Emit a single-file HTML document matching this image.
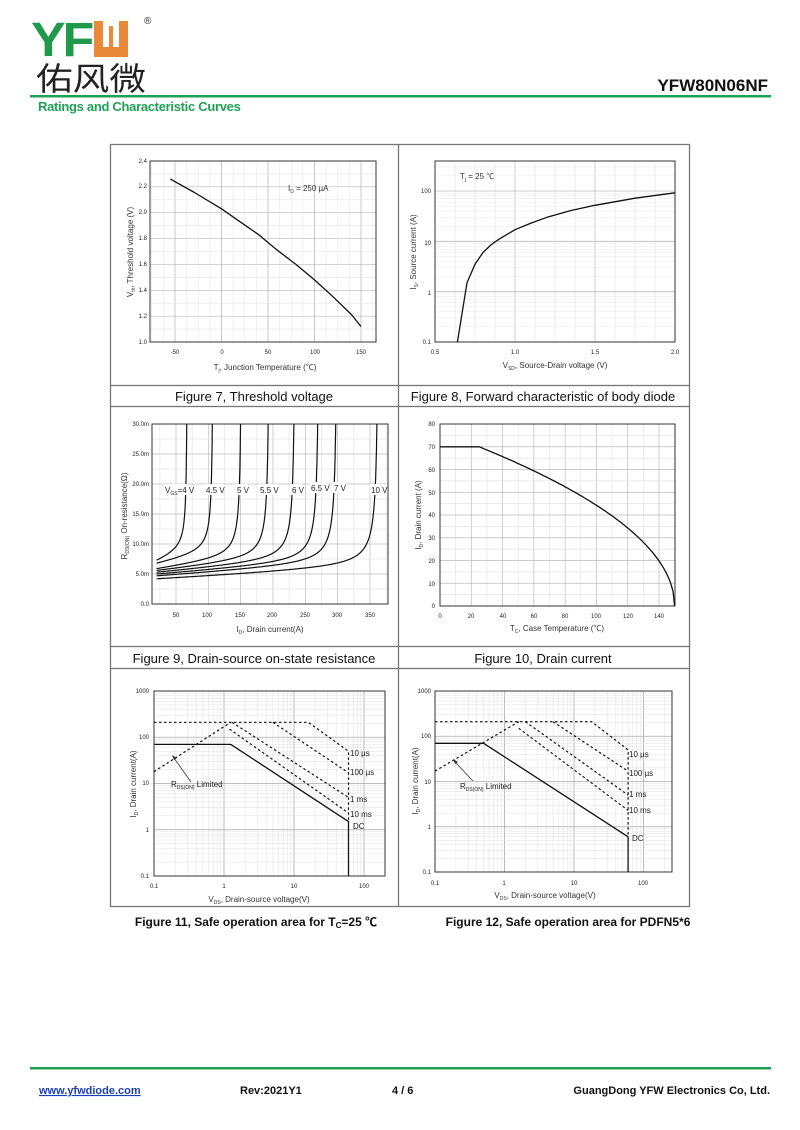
<!DOCTYPE html>
<html><head><meta charset="utf-8">
<style>
html,body{margin:0;padding:0;background:#fff;}
svg{display:block;}
text{font-family:"Liberation Sans","Noto Sans CJK SC",sans-serif;fill:#222;}
.t{font-size:6px;fill:#333}
.al{font-size:8px;fill:#333}
.cap{font-size:13px;fill:#111}
.capb{font-size:12px;font-weight:bold;fill:#111}
.ft{font-size:11px;font-weight:bold;fill:#111}
</style></head><body>
<svg id="s" width="800" height="1130" viewBox="0 0 800 1130" xmlns="http://www.w3.org/2000/svg">
<!-- header -->
<text x="31" y="56" style="font-size:48px;font-weight:bold;fill:#1f9a4a;letter-spacing:-3px" textLength="60" lengthAdjust="spacingAndGlyphs">YF</text>
<rect x="94" y="21" width="34" height="36" fill="#e98a3a"/>
<rect x="103" y="21" width="16" height="26" fill="#fff"/>
<rect x="109" y="26" width="4" height="21" fill="#e98a3a"/>
<text x="144" y="24" style="font-size:10px;fill:#333">®</text>
<text x="36" y="90" style="font-size:32px;fill:#222;font-family:'Noto Sans CJK SC',sans-serif" textLength="110" lengthAdjust="spacingAndGlyphs">佑风微</text>
<text x="768" y="91" text-anchor="end" style="font-size:17px;font-weight:bold;fill:#111">YFW80N06NF</text>
<rect x="30" y="95" width="741" height="2.5" fill="#1fa055"/>
<text x="38" y="111" style="font-size:13px;font-weight:bold;fill:#1fa055;letter-spacing:-0.3px">Ratings and Characteristic Curves</text>

<!-- frame -->
<g fill="none" stroke="#777" stroke-width="1.3">
<rect x="110.5" y="144.5" width="579" height="241"/>
<rect x="110.5" y="406.5" width="579" height="240"/>
<rect x="110.5" y="668.5" width="579" height="238"/>
<line x1="398.5" y1="144" x2="398.5" y2="386"/>
<line x1="398.5" y1="406" x2="398.5" y2="646"/>
<line x1="398.5" y1="668" x2="398.5" y2="906"/>
<line x1="110.5" y1="386" x2="110.5" y2="406"/><line x1="689.5" y1="386" x2="689.5" y2="406"/><line x1="398.5" y1="386" x2="398.5" y2="406"/>
<line x1="110.5" y1="646" x2="110.5" y2="668"/><line x1="689.5" y1="646" x2="689.5" y2="668"/><line x1="398.5" y1="646" x2="398.5" y2="668"/>
</g>
<g id="plots"></g>

<!-- captions -->
<text class="cap" x="254" y="401" text-anchor="middle">Figure 7, Threshold voltage</text>
<text class="cap" x="543" y="401" text-anchor="middle">Figure 8, Forward characteristic of body diode</text>
<text class="cap" x="254" y="663" text-anchor="middle">Figure 9, Drain-source on-state resistance</text>
<text class="cap" x="543" y="663" text-anchor="middle">Figure 10, Drain current</text>
<text class="capb" x="256" y="926" text-anchor="middle">Figure 11, Safe operation area for T<tspan font-size="8" dy="2">C</tspan><tspan dy="-2">=25 ℃</tspan></text>
<text class="capb" x="568" y="926" text-anchor="middle">Figure 12, Safe operation area for  PDFN5*6</text>

<!-- chart 7 labels -->
<g class="t" text-anchor="end">
<text x="147" y="163">2.4</text><text x="147" y="188">2.2</text><text x="147" y="214">2.0</text><text x="147" y="240">1.8</text><text x="147" y="266">1.6</text><text x="147" y="292">1.4</text><text x="147" y="318">1.2</text><text x="147" y="344">1.0</text>
</g>
<g class="t" text-anchor="middle">
<text x="175" y="354">-50</text><text x="222" y="354">0</text><text x="268" y="354">50</text><text x="315" y="354">100</text><text x="361" y="354">150</text>
</g>
<text class="al" x="265" y="370" text-anchor="middle">T<tspan font-size="5" dy="2">j</tspan><tspan dy="-2">, Junction Temperature (℃)</tspan></text>
<text class="al" transform="translate(133,252) rotate(-90)" text-anchor="middle">V<tspan font-size="5" dy="2">th</tspan><tspan dy="-2">, Threshold voltage (V)</tspan></text>
<text class="al" x="288" y="191">I<tspan font-size="5" dy="2">D</tspan><tspan dy="-2"> = 250 µA</tspan></text>

<!-- chart 8 labels -->
<g class="t" text-anchor="end">
<text x="431" y="193">100</text><text x="431" y="245">10</text><text x="431" y="295">1</text><text x="431" y="344">0.1</text>
</g>
<g class="t" text-anchor="middle">
<text x="435" y="354">0.5</text><text x="515" y="354">1.0</text><text x="595" y="354">1.5</text><text x="675" y="354">2.0</text>
</g>
<text class="al" x="555" y="368" text-anchor="middle">V<tspan font-size="5" dy="2">SD</tspan><tspan dy="-2">, Source-Drain voltage (V)</tspan></text>
<text class="al" transform="translate(416,252) rotate(-90)" text-anchor="middle">I<tspan font-size="5" dy="2">S</tspan><tspan dy="-2">, Source current (A)</tspan></text>
<text class="al" x="460" y="179">T<tspan font-size="5" dy="2">j</tspan><tspan dy="-2"> = 25 ℃</tspan></text>

<!-- chart 9 labels -->
<g class="t" text-anchor="end">
<text x="149" y="426">30.0m</text><text x="149" y="456">25.0m</text><text x="149" y="486">20.0m</text><text x="149" y="516">15.0m</text><text x="149" y="546">10.0m</text><text x="149" y="576">5.0m</text><text x="149" y="606">0.0</text>
</g>
<g class="t" text-anchor="middle">
<text x="176" y="617">50</text><text x="207" y="617">100</text><text x="240" y="617">150</text><text x="272" y="617">200</text><text x="305" y="617">250</text><text x="337" y="617">300</text><text x="370" y="617">350</text>
</g>
<text class="al" x="270" y="632" text-anchor="middle">I<tspan font-size="5" dy="2">D</tspan><tspan dy="-2">, Drain current(A)</tspan></text>
<text class="al" transform="translate(127,516) rotate(-90)" text-anchor="middle">R<tspan font-size="5" dy="2">DS(ON)</tspan><tspan dy="-2"> On-resistance(Ω)</tspan></text>
<g id="c9lab" class="al" style="font-size:8px"></g>

<!-- chart 10 labels -->
<g class="t" text-anchor="end">
<text x="435" y="426">80</text><text x="435" y="449">70</text><text x="435" y="472">60</text><text x="435" y="495">50</text><text x="435" y="517">40</text><text x="435" y="540">30</text><text x="435" y="563">20</text><text x="435" y="586">10</text><text x="435" y="608">0</text>
</g>
<g class="t" text-anchor="middle">
<text x="440" y="618">0</text><text x="471" y="618">20</text><text x="503" y="618">40</text><text x="534" y="618">60</text><text x="565" y="618">80</text><text x="596" y="618">100</text><text x="628" y="618">120</text><text x="659" y="618">140</text>
</g>
<text class="al" x="557" y="631" text-anchor="middle">T<tspan font-size="5" dy="2">C</tspan><tspan dy="-2">, Case Temperature (℃)</tspan></text>
<text class="al" transform="translate(421,515) rotate(-90)" text-anchor="middle">I<tspan font-size="5" dy="2">D</tspan><tspan dy="-2">, Drain current (A)</tspan></text>

<!-- chart 11 labels -->
<g class="t" text-anchor="end">
<text x="149" y="693">1000</text><text x="149" y="739">100</text><text x="149" y="785">10</text><text x="149" y="832">1</text><text x="149" y="878">0.1</text>
</g>
<g class="t" text-anchor="middle">
<text x="154" y="888">0.1</text><text x="224" y="888">1</text><text x="294" y="888">10</text><text x="364" y="888">100</text>
</g>
<text class="al" x="259" y="902" text-anchor="middle">V<tspan font-size="5" dy="2">DS</tspan><tspan dy="-2">, Drain-source voltage(V)</tspan></text>
<text class="al" transform="translate(136,784) rotate(-90)" text-anchor="middle">I<tspan font-size="5" dy="2">D</tspan><tspan dy="-2">, Drain current(A)</tspan></text>
<g class="al">
<text x="171" y="787">R<tspan font-size="5" dy="2">DS(ON)</tspan><tspan dy="-2"> Limited</tspan></text>
<text x="350" y="756">10 µs</text><text x="350" y="775">100 µs</text><text x="350" y="802">1 ms</text><text x="350" y="817">10 ms</text><text x="353" y="829">DC</text>
</g>

<!-- chart 12 labels -->
<g class="t" text-anchor="end">
<text x="431" y="693">1000</text><text x="431" y="738">100</text><text x="431" y="784">10</text><text x="431" y="829">1</text><text x="431" y="874">0.1</text>
</g>
<g class="t" text-anchor="middle">
<text x="435" y="885">0.1</text><text x="504" y="885">1</text><text x="574" y="885">10</text><text x="643" y="885">100</text>
</g>
<text class="al" x="545" y="898" text-anchor="middle">V<tspan font-size="5" dy="2">DS</tspan><tspan dy="-2">, Drain-source voltage(V)</tspan></text>
<text class="al" transform="translate(418,781) rotate(-90)" text-anchor="middle">I<tspan font-size="5" dy="2">D</tspan><tspan dy="-2">, Drain current(A)</tspan></text>
<g class="al">
<text x="460" y="789">R<tspan font-size="5" dy="2">DS(ON)</tspan><tspan dy="-2"> Limited</tspan></text>
<text x="629" y="757">10 µs</text><text x="629" y="776">100 µs</text><text x="629" y="797">1 ms</text><text x="629" y="813">10 ms</text><text x="632" y="841">DC</text>
</g>

<!-- chart 9 curve labels (drawn above curves) -->
<g id="c9top" class="al" style="font-size:8px">
<rect x="164" y="484" width="24" height="11" fill="#fff"/>
<text x="165" y="493">V<tspan font-size="5" dy="2">GS</tspan><tspan dy="-2">=4 V</tspan></text>
<rect x="205" y="484" width="18" height="11" fill="#fff"/><text x="206" y="493">4.5 V</text>
<rect x="236" y="484" width="12" height="11" fill="#fff"/><text x="237" y="493">5 V</text>
<rect x="259" y="484" width="18" height="11" fill="#fff"/><text x="260" y="493">5.5 V</text>
<rect x="291" y="484" width="12" height="11" fill="#fff"/><text x="292" y="493">6 V</text>
<rect x="310" y="482" width="18" height="11" fill="#fff"/><text x="311" y="491">6.5 V</text>
<rect x="333" y="482" width="12" height="11" fill="#fff"/><text x="334" y="491">7 V</text>
<rect x="370" y="484" width="17" height="11" fill="#fff"/><text x="371" y="493">10 V</text>
</g>

<!-- footer -->
<rect x="30" y="1067" width="741" height="2.5" fill="#1fa055"/>
<text class="ft" x="39" y="1094" style="fill:#1a3fb5;text-decoration:underline">www.yfwdiode.com</text>
<text class="ft" x="240" y="1094">Rev:2021Y1</text>
<text class="ft" x="392" y="1094">4 / 6</text>
<text class="ft" x="770" y="1094" text-anchor="end">GuangDong YFW Electronics Co, Ltd.</text>
</svg>
<script>
(function(){
var NS="http://www.w3.org/2000/svg",G=document.getElementById("plots");
function el(t,a){var e=document.createElementNS(NS,t);for(var k in a)e.setAttribute(k,a[k]);G.appendChild(e);return e;}
function line(x1,y1,x2,y2,c,w,d){var a={x1:x1,y1:y1,x2:x2,y2:y2,stroke:c,"stroke-width":w};if(d)a["stroke-dasharray"]=d;el("line",a);}
function path(pts,w,d){var s="";pts.forEach(function(p,i){s+=(i?"L":"M")+p[0].toFixed(1)+","+p[1].toFixed(1);});var a={d:s,fill:"none",stroke:"#111","stroke-width":w,"stroke-linejoin":"round"};if(d)a["stroke-dasharray"]=d;el("path",a);}
function box(x0,y0,x1,y1){el("rect",{x:x0,y:y0,width:x1-x0,height:y1-y0,fill:"none",stroke:"#333","stroke-width":1});}
function lin(a0,a1,p0,p1){return function(v){return p0+(v-a0)*(p1-p0)/(a1-a0);};}
function lg(a0,a1,p0,p1){return function(v){return p0+(Math.log10(v)-a0)*(p1-p0)/(a1-a0);};}
// chart 7
var X=lin(-50,150,175,361),Y=lin(1,2.4,342,161);
for(var v=-75;v<=175;v+=12.5){var x=X(v);if(x>150&&x<376)line(x,161,x,342,v%50==0?"#bbb":"#e4e4e4",v%50==0?0.8:0.5);}
for(var v=1.0;v<=2.4;v+=0.1){var y=Y(v);line(150,y,376,y,Math.round(v*10)%2==0?"#bbb":"#e4e4e4",0.6);}
box(150,161,376,342);
path([[-55,2.26],[-30,2.16],[0,2.03],[20,1.93],[40,1.83],[60,1.71],[80,1.6],[100,1.48],[120,1.35],[140,1.21],[150,1.12]].map(function(p){return[X(p[0]),Y(p[1])];}),1.3);
// chart 8
X=lin(0.5,2,435,675);Y=lg(-1,2,342,191);
for(var v=0.5;v<=2.001;v+=0.125){line(X(v),161,X(v),342,Math.abs(v*2-Math.round(v*2))<1e-6?"#bbb":"#e4e4e4",0.7);}
for(var d=-1;d<3;d++)for(var m=1;m<10;m++){var y=Y(m*Math.pow(10,d));if(y>=161)line(435,y,675,y,m==1?"#bbb":"#e8e8e8",m==1?0.8:0.5);}
box(435,161,675,342);
path([[0.64,0.1],[0.7,1.5],[0.75,3.5],[0.8,6],[0.85,8.5],[0.9,11],[1.0,17],[1.1,23],[1.2,30],[1.35,41],[1.5,52],[1.75,72],[2.0,92]].map(function(p){return[X(p[0]),Y(p[1])];}),1.3);
// chart 9
X=lin(50,350,176,370);Y=lin(0,30,604,424);
for(var v=25;v<=375;v+=25){var x=X(v);if(x>152&&x<388)line(x,424,x,604,v%50==0?"#bbb":"#e4e4e4",0.7);}
for(var v=0;v<=30;v+=2.5){line(152,Y(v),388,Y(v),v%5==0?"#bbb":"#e4e4e4",0.7);}
box(152,424,388,604);
[[7.3,68],[6.8,108],[5.9,152],[5.6,195],[5.3,235],[5.0,272],[4.7,300],[4.2,364]].forEach(function(c){
 var R0=c[0],A=c[1],k=80*Math.sqrt((A-20)/344),cl=2;
 function f(x){return R0+cl*(x-20)/(A-20)+k*(1/(A-x)-1/(A-20));}
 var pts=[],x=20;
 while(true){var r=f(x);if(r>=30){var lo=x-0.25,hi=x;for(var i=0;i<30;i++){var m=(lo+hi)/2;if(f(m)<30)lo=m;else hi=m;}pts.push([X(lo),Y(30)]);break;}
  pts.push([X(x),Y(r)]);x+=(A-x>20?1:0.25);}
 path(pts,1.2);});
// move chart 9 labels above curves
var top=document.getElementById("c9top");top.parentNode.appendChild(top);
// chart 10
X=lin(0,140,440,659);Y=lin(0,80,606,424);
for(var v=0;v<=150;v+=10)line(X(v),424,X(v),606,v%20==0?"#bbb":"#e4e4e4",0.7);
for(var v=0;v<=80;v+=5)line(440,Y(v),675,Y(v),v%10==0?"#bbb":"#e4e4e4",0.7);
box(440,424,675,606);
var p10=[[X(0),Y(70)],[X(25),Y(70)]];for(var t=25;t<=150;t+=1)p10.push([X(t),Y(70*Math.sqrt((150-t)/125))]);path(p10,1.3);
// SOA
function soa(x0,x1,y0,y1,dxa,dya,dc,rl,us10,us100,ms1,ms10){
 var X=lg(-1,2,x0,x0+3*dxa),Y=lg(-1,3,y0,y0-4*dya);
 for(var d=-1;d<3;d++)for(var m=1;m<10;m++){var x=X(m*Math.pow(10,d));if(x<=x1)line(x,y1,x,y0,m==1?"#aaa":"#e0e0e0",m==1?0.8:0.5);}
 for(var d=-1;d<3;d++)for(var m=1;m<10;m++){var y=Y(m*Math.pow(10,d));if(y>=y1)line(x0,y,x1,y,m==1?"#aaa":"#e0e0e0",m==1?0.8:0.5);}
 box(x0,y1,x1,y0);
 function P(a){return a.map(function(p){return[X(p[0]),Y(p[1])];});}
 var dsh="2.5,2.5";
 path(P([[0.1,210],[us10,210],[60,50],[60,dc[1]]]),1.2,dsh);
 path(P([[rl[0],rl[1]],[rl[2],210]]),1.2,dsh);
 path(P([[us100,210],[60,17]]),1.2,dsh);
 path(P([[ms1,210],[60,5]]),1.2,dsh);
 path(P([[ms10[0],ms10[1]],[60,2.3]]),1.2,dsh);
 path(P([[0.1,70],[dc[0],70],[60,dc[1]],[60,0.1]]),1.3);
}
soa(154,385,876,691,70,46.25,[1.25,1.5],[0.1,18,1.25],16,5,1.3,[1.2,150]);
line(174,758,191,782,"#333",0.8);el("path",{d:"M172,755 L177,758 L174,760 Z",fill:"#333"});
soa(435,672,872,691,69.5,45.25,[0.5,0.6],[0.1,17,1.6],18,5,2,[1.6,150]);
line(455,762,473,781,"#333",0.8);el("path",{d:"M453,759 L458,762 L455,764 Z",fill:"#333"});
})();
</script>
</body></html>
